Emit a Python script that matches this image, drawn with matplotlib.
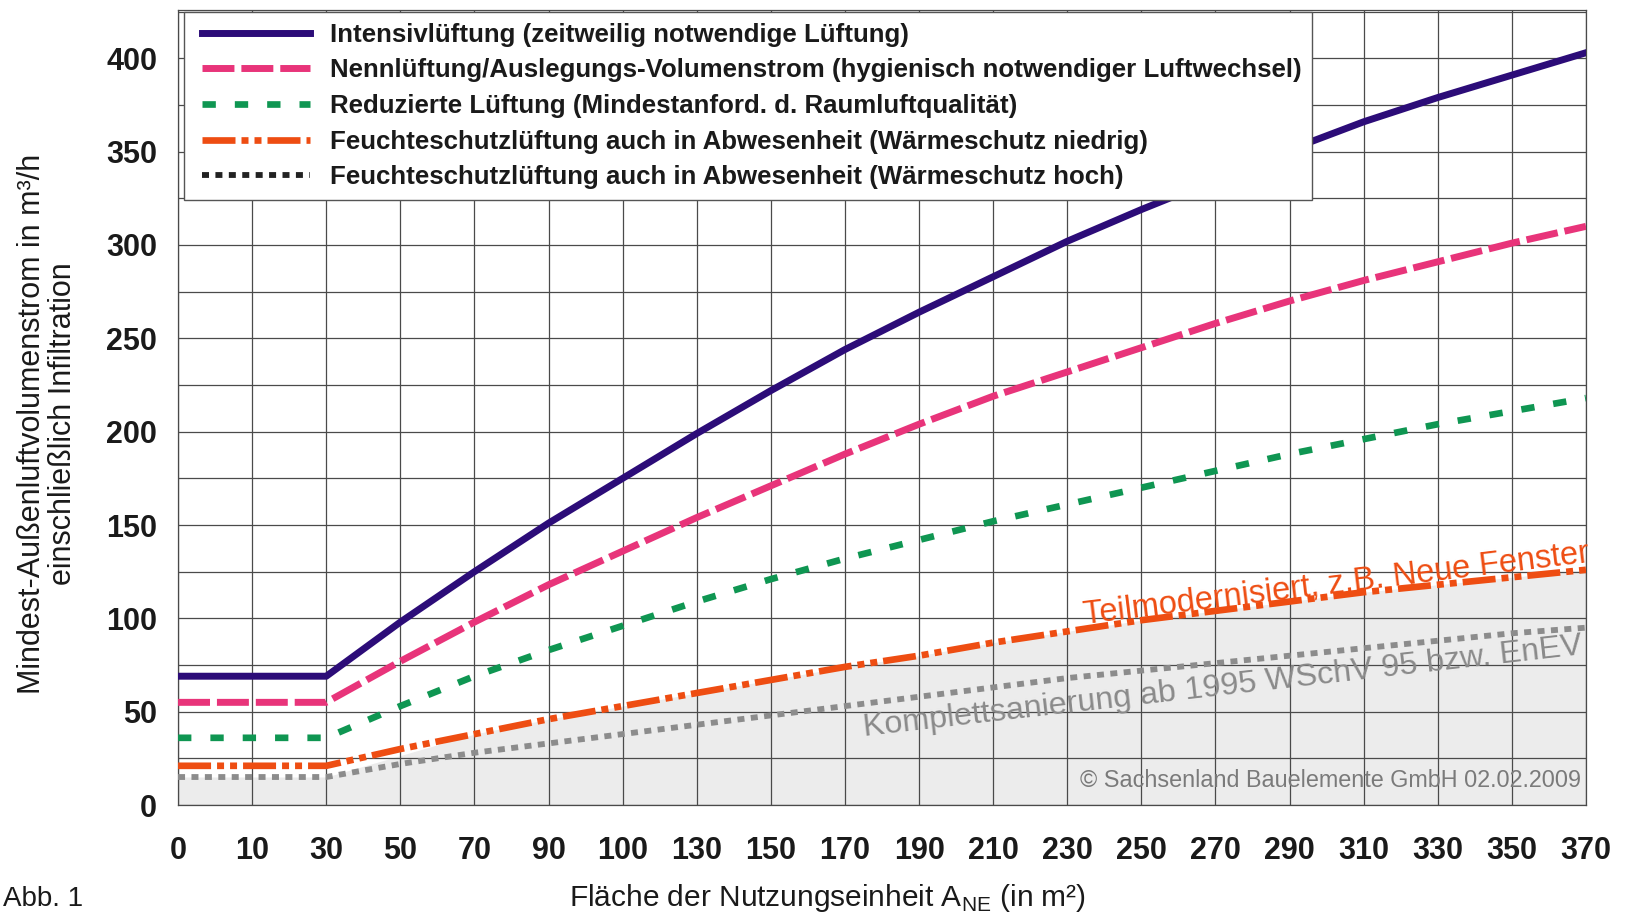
import matplotlib.pyplot as plt
from matplotlib.lines import Line2D
from matplotlib.legend_handler import HandlerLine2D
from matplotlib.ticker import MultipleLocator

plt.rcParams['font.family'] = ['Liberation Sans', 'DejaVu Sans']

# x positions are evenly spaced categories
x_labels = ['0', '10', '30', '50', '70', '90', '100', '130', '150', '170',
            '190', '210', '230', '250', '270', '290', '310', '330', '350', '370']

intensiv = [69, 69, 69, 98, 125, 151, 175, 199, 222, 244,
            264, 283, 302, 319, 335, 351, 366, 379, 391, 403]
nenn = [55, 55, 55, 77, 98, 118, 136, 154, 171, 188,
        204, 219, 232, 245, 258, 270, 281, 291, 301, 310]
reduziert = [36, 36, 36, 53, 69, 83, 96, 109, 121, 132,
             142, 152, 161, 170, 179, 188, 196, 204, 211, 218]
feuchte_niedrig = [21, 21, 21, 30, 38, 46, 53, 60, 67, 74,
                   80, 87, 93, 99, 104, 109, 114, 118, 122, 126]
feuchte_hoch = [15, 15, 15, 22, 28, 33, 38, 43, 48, 53,
                58, 63, 68, 72, 76, 80, 84, 88, 92, 95]

labels = ['Intensivlüftung (zeitweilig notwendige Lüftung)',
          'Nennlüftung/Auslegungs-Volumenstrom (hygienisch notwendiger Luftwechsel)',
          'Reduzierte Lüftung (Mindestanford. d. Raumluftqualität)',
          'Feuchteschutzlüftung auch in Abwesenheit (Wärmeschutz niedrig)',
          'Feuchteschutzlüftung auch in Abwesenheit (Wärmeschutz hoch)']

PURPLE = '#2c0c78'
PINK = '#e8347a'
GREEN = '#0f9652'
ORANGE = '#ee4d12'
GRAY = '#8c8c8c'

xs = list(range(len(x_labels)))

fig = plt.figure(figsize=(16.29, 9.15), dpi=100)
ax = fig.add_axes([0.1093, 0.1202, 0.8643, 0.8691])

# shaded area below the moisture protection curves
shade_x = xs[:3] + xs[4:]
shade_y = feuchte_hoch[:3] + feuchte_niedrig[4:]
ax.fill_between(shade_x, 0, shade_y, color='#ececec', lw=0, zorder=1)

ax.plot(xs, feuchte_hoch, color=GRAY, lw=4.2, dashes=(1.2, 1.1), zorder=3)
ax.plot(xs, feuchte_niedrig, color=ORANGE, lw=4.8, dashes=(4.95, 0.9, 1.05, 0.9, 1.05, 0.9), zorder=3)
ax.plot(xs, reduziert, color=GREEN, lw=4.8, dashes=(2.0, 2.85), zorder=3)
ax.plot(xs, nenn, color=PINK, lw=5, dashes=(4.6, 1.0), zorder=3)
ax.plot(xs, intensiv, color=PURPLE, lw=5, zorder=3)

ax.set_xlim(0, len(x_labels) - 1)
ax.set_ylim(0, 426)
ax.set_xticks(xs)
ax.set_xticklabels(x_labels)
ax.yaxis.set_major_locator(MultipleLocator(50))
ax.yaxis.set_minor_locator(MultipleLocator(25))
ax.grid(True, which='both', color='#4a4a4a', lw=0.9)
ax.set_axisbelow(False)
ax.tick_params(which='both', length=0)
ax.tick_params(axis='y', pad=15)
ax.tick_params(axis='x', pad=22)
for lab in ax.get_xticklabels() + ax.get_yticklabels():
    lab.set_fontsize(22)
    lab.set_fontweight('bold')
    lab.set_color('#1a1a1a')
for sp in ax.spines.values():
    sp.set_color('#4a4a4a')
    sp.set_linewidth(0.9)

ax.set_ylabel('Mindest-Außenluftvolumenstrom in m³/h\neinschließlich Infiltration',
              fontsize=22, color='#1a1a1a', linespacing=1.05)
ax.yaxis.set_label_coords(-0.071, 0.479)
ax.set_xlabel('Fläche der Nutzungseinheit A$_\\mathregular{NE}$ (in m²)',
              fontsize=21.5, color='#1a1a1a')
ax.xaxis.set_label_coords(0.461, -0.097)

ax.text(15.63, 118.4, 'Teilmodernisiert, z.B. Neue Fenster', color=ORANGE,
        fontsize=23.5, rotation=7, rotation_mode='anchor', ha='center', va='center', zorder=4)
ax.text(14.10, 63.2, 'Komplettsanierung ab 1995 WSchV 95 bzw. EnEV', color='#8a8a8a',
        fontsize=23.3, rotation=6.5, rotation_mode='anchor', ha='center', va='center', zorder=4)
ax.text(18.93, 13.4, '© Sachsenland Bauelemente GmbH 02.02.2009', color='#7a7a7a',
        fontsize=16.8, ha='right', va='center', zorder=4)

handles = [Line2D([], [], color=PURPLE, lw=5),
           Line2D([], [], color=PINK, lw=5, dashes=(4.6, 1.0)),
           Line2D([], [], color=GREEN, lw=4.8, dashes=(2.0, 2.85)),
           Line2D([], [], color=ORANGE, lw=4.8, dashes=(4.95, 0.9, 1.05, 0.9, 1.05, 0.9)),
           Line2D([], [], color='#222222', lw=4.2, dashes=(1.2, 1.1))]
leg = ax.legend(handles, labels, loc='upper left', bbox_to_anchor=(0.0043, 0.9966),
                borderaxespad=0, prop={'size': 18.6, 'weight': 'bold'},
                handlelength=4.48, handletextpad=0.75, labelspacing=0.45,
                borderpad=0.4, fancybox=False, framealpha=1, edgecolor='#555555',
                handler_map={Line2D: HandlerLine2D(xpad=0.28)})
leg.get_frame().set_linewidth(1.0)
leg.set_zorder(5)
for t in leg.get_texts():
    t.set_color('#1a1a1a')

fig.text(0.002, 0.003, 'Abb. 1', fontsize=20, va='bottom', ha='left', color='#1a1a1a')

fig.savefig('out.png', dpi=100)
